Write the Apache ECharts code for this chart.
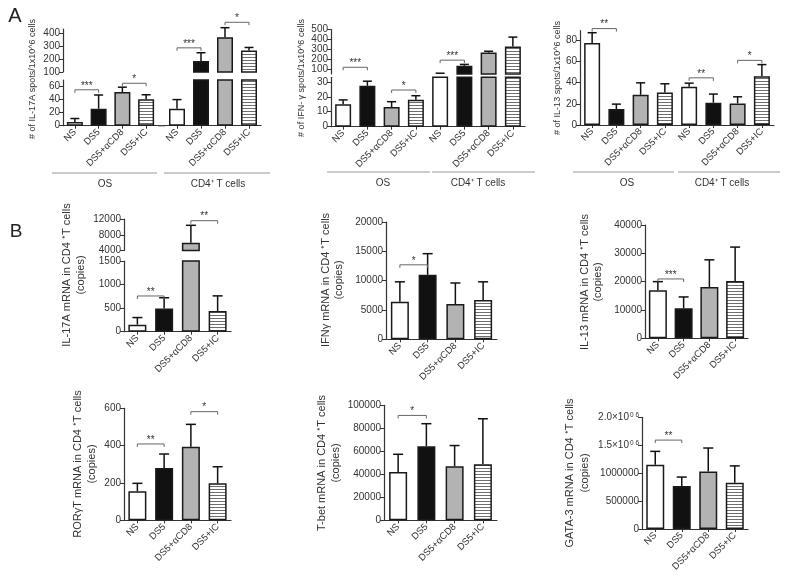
<!DOCTYPE html>
<html><head><meta charset="utf-8">
<script src="https://cdn.jsdelivr.net/npm/echarts@6/dist/echarts.min.js"></script>
<style>html,body{margin:0;padding:0;background:#fff}#c{width:789px;height:579px}</style>
</head><body><div id="c"></div>
<script>
// ---------------- DATA ----------------
const CATS = ['NS', 'DS5', 'DS5+αCD8', 'DS5+IC'];

// A1: IL-17A ELISpot (OS / CD4+ T cells)
const A1_OS = [5.5, 26, 51.5, 40.4];
const A1_OS_ERR = [5.5, 21, 7.5, 7];
const A1_CD4 = [26, 185, 369, 267];
const A1_CD4_ERR = [14, 64, 74, 23];
const A1_LOW_TICKS = [0, 20, 40, 60];
const A1_UP_TICKS = [100, 200, 300, 400];
const A1_OS_SIG = [[0, 1, 55, '***'], [2, 3, 65, '*']];
const A1_CD4_SIG = [[0, 1, 287, '***'], [2, 3, 485, '*']];

// A2: IFN-γ ELISpot
const A2_OS = [15, 27.3, 13.1, 18];
const A2_OS_ERR = [2.9, 3.1, 3.6, 2.7];
const A2_CD4 = [55, 133, 267, 327];
const A2_CD4_ERR = [3, 14, 13, 96];
const A2_LOW_TICKS = [0, 10, 20, 30];
const A2_UP_TICKS = [100, 200, 300, 400, 500];
const A2_OS_SIG = [[0, 1, 39.7, '***'], [2, 3, 24.5, '*']];
const A2_CD4_SIG = [[0, 1, 190, '***']];

// A3: IL-13 ELISpot
const A3_OS = [77.4, 15, 28.5, 30.7];
const A3_OS_ERR = [9.7, 4.7, 11.3, 8.2];
const A3_CD4 = [36, 21, 20.4, 46];
const A3_CD4_ERR = [3.5, 8.2, 6.2, 11];
const A3_TICKS = [0, 20, 40, 60, 80];
const A3_OS_SIG = [[0, 1, 91, '**']];
const A3_CD4_SIG = [[0, 1, 44.5, '**'], [2, 3, 61, '*']];

// B: mRNA copies in CD4+ T cells
const B1 = [150, 490, 6000, 440];
const B1_ERR = [150, 230, 4400, 320];
const B1_LOW_TICKS = [0, 500, 1000, 1500];
const B1_UP_TICKS = [4000, 8000, 12000];
const B1_LOW_SIG = [[0, 1, 758, '**']];
const B1_UP_SIG = [[2, 3, 11570, '**']];

const B2 = [6400, 11000, 6000, 6700];
const B2_ERR = [3400, 3600, 3600, 3100];
const B2_TICKS = [0, 5000, 10000, 15000, 20000];
const B2_SIG = [[0, 1, 12700, '*']];

const B3 = [17000, 10600, 18100, 20200];
const B3_ERR = [3000, 4000, 9600, 12000];
const B3_TICKS = [0, 10000, 20000, 30000, 40000];
const B3_SIG = [[0, 1, 20950, '***']];

const B4 = [155, 280, 394, 198];
const B4_ERR = [43, 75, 120, 89];
const B4_TICKS = [0, 200, 400, 600];
const B4_SIG = [[0, 1, 409, '**'], [2, 3, 582, '*']];

const B5 = [42100, 64300, 47000, 48700];
const B5_ERR = [15300, 19700, 18000, 39600];
const B5_TICKS = [0, 20000, 40000, 60000, 80000, 100000];
const B5_SIG = [[0, 1, 91200, '*']];

const B6 = [1150000, 770000, 1030000, 830000];
const B6_ERR = [240000, 160000, 420000, 300000];
const B6_TICKS = [0, 500000, 1000000, 1500000, 2000000];
const B6_TICK_LABELS = ['0', '500000', '1000000', '1.5×10{s|0 6}', '2.0×10{s|0 6}'];
const B6_SIG = [[0, 1, 1592000, '**']];

// ---------------- BUILD ----------------
const FONT = 'Liberation Sans, Arial, Helvetica, sans-serif';
const grids = [], xAxes = [], yAxes = [], series = [], graphics = [];

// horizontal-stripe pattern for the DS5+IC bars
const stripe = document.createElement('canvas');
stripe.width = 4; stripe.height = 3;
{
  const c = stripe.getContext('2d');
  c.fillStyle = '#ffffff'; c.fillRect(0, 0, 4, 3);
  c.fillStyle = '#6e6e6e'; c.fillRect(0, 0, 4, 1);
}

function addGrid(o) {
  const i = grids.length;
  grids.push({left: o.left, top: o.top, width: o.width, height: o.height, containLabel: false, outerBoundsMode: 'none'});
  xAxes.push({
    gridIndex: i, type: 'category', data: o.cats, boundaryGap: true,
    axisLine: {show: !!o.showX, onZero: false, lineStyle: {color: '#333', width: 1.2}},
    axisTick: {show: !!o.showX, alignWithLabel: true, length: 3, lineStyle: {color: '#333'}},
    axisLabel: {show: !!o.showX, rotate: 45, interval: 0, fontSize: o.xfs || 9.5, color: '#333', margin: 5, fontFamily: FONT},
    splitLine: {show: false}
  });
  yAxes.push({
    gridIndex: i, type: 'value', min: o.min, max: o.max,
    splitLine: {show: false},
    axisLine: {show: !!o.showY, onZero: false, lineStyle: {color: '#333', width: 1.2}},
    axisTick: {show: !!o.showY, length: 4, customValues: o.ticks, lineStyle: {color: '#333'}},
    axisLabel: {show: !!o.showY, customValues: o.ticks, formatter: o.fmt || (v => String(v)), fontSize: o.yfs || 10,
      color: '#333', margin: 3, fontFamily: FONT,
      rich: {s: {fontSize: 6.5, verticalAlign: 'top', color: '#333', fontFamily: FONT, padding: [0, 0, 5, 1]}}}
  });
  return i;
}

function styleFor(k) {
  const base = {borderColor: '#1a1a1a', borderWidth: 1.5};
  if (k === 0) return Object.assign({}, base, {color: '#ffffff'});
  if (k === 1) return Object.assign({}, base, {color: '#111111'});
  if (k === 2) return Object.assign({}, base, {color: '#b3b3b3'});
  return Object.assign({}, base, {color: {image: stripe, repeat: 'repeat'}});
}

function addBars(gi, vals, errs, bw, capW, ymin, ymax) {
  series.push({
    type: 'bar', xAxisIndex: gi, yAxisIndex: gi, barWidth: bw, clip: true, silent: true, animation: false,
    data: vals.map((v, k) => ({value: v, itemStyle: styleFor(k % 4)}))
  });
  series.push({
    type: 'custom', xAxisIndex: gi, yAxisIndex: gi, clip: false, animation: false, silent: true, z: 1,
    data: vals.map((v, k) => [k, v, errs[k]]),
    renderItem: (p, api) => {
      const x = api.value(0), v = api.value(1), e = api.value(2);
      if (v >= ymax || v + e <= ymin) return {type: 'group', children: []};
      const b = api.coord([x, Math.max(v, ymin)]), t = api.coord([x, v + e]);
      return {type: 'group', children: [
        {type: 'line', shape: {x1: b[0], y1: b[1], x2: t[0], y2: t[1]}, style: {stroke: '#111', lineWidth: 1.5}},
        {type: 'line', shape: {x1: t[0] - capW / 2, y1: t[1], x2: t[0] + capW / 2, y2: t[1]}, style: {stroke: '#111', lineWidth: 1.5}}
      ]};
    }
  });
}

function addSig(gi, sig, offset) {
  series.push({
    type: 'custom', xAxisIndex: gi, yAxisIndex: gi, clip: false, animation: false, silent: true, z: 3,
    data: sig.map(s => [s[0] + offset, s[2]]),
    renderItem: (p, api) => {
      const s = sig[p.dataIndex];
      const a = api.coord([s[0] + offset, s[2]]), b = api.coord([s[1] + offset, s[2]]);
      return {type: 'group', children: [
        {type: 'polyline', shape: {points: [[a[0], a[1] + 3], [a[0], a[1]], [b[0], a[1]], [b[0], a[1] + 3]]},
          style: {stroke: '#666', lineWidth: 1, fill: null}},
        {type: 'text', x: (a[0] + b[0]) / 2, y: a[1] + 1,
          style: {text: s[3], fontSize: 10, fill: '#333', align: 'center', verticalAlign: 'bottom', fontFamily: FONT}}
      ]};
    }
  });
}

function txt(x, y, s, fs, rot, extra) {
  graphics.push(Object.assign({type: 'text', x: x, y: y, rotation: rot || 0,
    style: {text: s, fontSize: fs, fill: '#333', align: 'center', verticalAlign: 'middle', fontFamily: FONT}}, extra || {}));
}
function hline(x1, x2, y, color, w) {
  graphics.push({type: 'line', shape: {x1: x1, y1: y, x2: x2, y2: y}, style: {stroke: color || '#999', lineWidth: w || 1}});
}

const CATS8 = CATS.concat(CATS);

// ----- A1 (broken axis, gap between groups)
{
  const lowTop = 80, lowH = 45.7, upTop = 29, upH = 43;
  const osL = 63, osW = 95, cdL = 165, cdW = 96;
  const g1 = addGrid({left: osL, top: lowTop, width: osW, height: lowH, cats: CATS, min: 0, max: 70, ticks: A1_LOW_TICKS, showX: true, showY: true});
  addBars(g1, A1_OS, A1_OS_ERR, 16, 9, 0, 70); addSig(g1, A1_OS_SIG, 0);
  const g2 = addGrid({left: cdL, top: lowTop, width: cdW, height: lowH, cats: CATS, min: 0, max: 70, ticks: A1_LOW_TICKS, showX: true, showY: false});
  addBars(g2, A1_CD4, A1_CD4_ERR, 16, 9, 0, 70);
  const g3 = addGrid({left: osL, top: upTop, width: osW, height: upH, cats: CATS, min: 100, max: 433, ticks: A1_UP_TICKS, showX: false, showY: true});
  const g4 = addGrid({left: cdL, top: upTop, width: cdW, height: upH, cats: CATS, min: 100, max: 433, ticks: A1_UP_TICKS, showX: false, showY: false});
  addBars(g4, A1_CD4, A1_CD4_ERR, 16, 9, 100, 433); addSig(g4, A1_CD4_SIG, 0);
  hline(osL + osW, cdL, lowTop + lowH, '#333', 1.2);
  txt(33, 79, '# of IL-17A spots/1x10^6 cells', 9, Math.PI / 2);
  hline(52, 157, 173); hline(164, 270, 173);
  txt(105, 184, 'OS', 10); txt(218, 184, 'CD4⁺ T cells', 10);
}
// ----- A2 (broken axis)
{
  const L = 331, W = 194;
  const g1 = addGrid({left: L, top: 77.3, width: W, height: 49.4, cats: CATS8, min: 0, max: 33, ticks: A2_LOW_TICKS, showX: true, showY: true});
  const vals = A2_OS.concat(A2_CD4), errs = A2_OS_ERR.concat(A2_CD4_ERR);
  addBars(g1, vals, errs, 16, 9, 0, 33); addSig(g1, A2_OS_SIG, 0);
  const g2 = addGrid({left: L, top: 29.5, width: W, height: 44.5, cats: CATS8, min: 50, max: 500, ticks: A2_UP_TICKS, showX: false, showY: true});
  addBars(g2, vals, errs, 16, 9, 50, 500); addSig(g2, A2_CD4_SIG, 4);
  txt(302, 78, '# of IFN- γ spots/1x10^6 cells', 9, Math.PI / 2);
  hline(327, 430, 172); hline(432, 535, 172);
  txt(383, 183, 'OS', 10); txt(478, 183, 'CD4⁺ T cells', 10);
}
// ----- A3
{
  const g = addGrid({left: 580, top: 30.7, width: 194, height: 94.3, cats: CATS8, min: 0, max: 89, ticks: A3_TICKS, showX: true, showY: true});
  addBars(g, A3_OS.concat(A3_CD4), A3_OS_ERR.concat(A3_CD4_ERR), 16, 9, 0, 89);
  addSig(g, A3_OS_SIG, 0); addSig(g, A3_CD4_SIG, 4);
  txt(558, 78, '# of IL-13 spots/1x10^6 cells', 9, Math.PI / 2);
  hline(573, 674, 172); hline(678, 780, 172);
  txt(627, 183, 'OS', 10); txt(722, 183, 'CD4⁺ T cells', 10);
}
// ----- B1 (broken axis)
{
  const g1 = addGrid({left: 124, top: 261, width: 107, height: 70.7, cats: CATS, min: 0, max: 1500, ticks: B1_LOW_TICKS, showX: true, showY: true});
  addBars(g1, B1, B1_ERR, 18, 10, 0, 1500); addSig(g1, B1_LOW_SIG, 0);
  const g2 = addGrid({left: 124, top: 219, width: 107, height: 31.5, cats: CATS, min: 4000, max: 12000, ticks: B1_UP_TICKS, showX: false, showY: true});
  addBars(g2, B1, B1_ERR, 18, 10, 4000, 12000); addSig(g2, B1_UP_SIG, 0);
  txt(67, 275, 'IL-17A mRNA in CD4 ⁺T cells', 11, Math.PI / 2);
  txt(81, 275, '(copies)', 11, Math.PI / 2);
}
function simpleB(left, top, width, height, vals, errs, ticks, sig, max, fmt) {
  const g = addGrid({left: left, top: top, width: width, height: height, cats: CATS, min: 0, max: max, ticks: ticks, showX: true, showY: true, fmt: fmt});
  addBars(g, vals, errs, 18, 10, 0, max); addSig(g, sig, 0);
}
simpleB(386, 222, 111, 117.3, B2, B2_ERR, B2_TICKS, B2_SIG, 20000);
txt(326, 280, 'IFNγ mRNA in CD4 ⁺T cells', 11, Math.PI / 2); txt(339, 280, '(copies)', 11, Math.PI / 2);
simpleB(645, 225, 103, 113.3, B3, B3_ERR, B3_TICKS, B3_SIG, 40000);
txt(585, 282, 'IL-13 mRNA in CD4 ⁺T cells', 11, Math.PI / 2); txt(598, 282, '(copies)', 11, Math.PI / 2);
simpleB(124, 408.3, 107, 112, B4, B4_ERR, B4_TICKS, B4_SIG, 600);
txt(78, 464, 'RORγT mRNA in CD4 ⁺T cells', 11, Math.PI / 2); txt(92, 464, '(copies)', 11, Math.PI / 2);
simpleB(384, 405.3, 113, 115, B5, B5_ERR, B5_TICKS, B5_SIG, 100000);
txt(322, 463, 'T-bet mRNA in CD4 ⁺T cells', 11, Math.PI / 2); txt(336, 463, '(copies)', 11, Math.PI / 2);
simpleB(642, 417.3, 106, 111.7, B6, B6_ERR, B6_TICKS, B6_SIG, 2000000, v => B6_TICK_LABELS[B6_TICKS.indexOf(v)]);
txt(570, 473, 'GATA-3 mRNA in CD4 ⁺T cells', 11, Math.PI / 2); txt(585, 473, '(copies)', 11, Math.PI / 2);

// panel letters
txt(15, 16, 'A', 20, 0, {style: {text: 'A', fontSize: 20, fill: '#222', align: 'center', verticalAlign: 'middle', fontFamily: FONT}});
txt(16, 232, 'B', 19, 0, {style: {text: 'B', fontSize: 19, fill: '#222', align: 'center', verticalAlign: 'middle', fontFamily: FONT}});

const chart = echarts.init(document.getElementById('c'), null, {renderer: 'canvas'});
chart.setOption({
  animation: false, backgroundColor: '#ffffff',
  grid: grids, xAxis: xAxes, yAxis: yAxes, series: series, graphic: graphics
});
</script></body></html>
